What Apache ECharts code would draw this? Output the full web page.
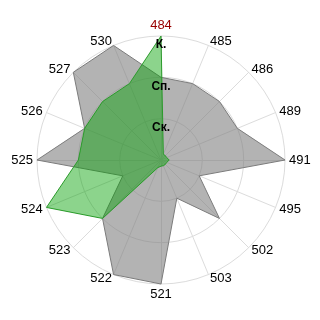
<!DOCTYPE html>
<html><head><meta charset="utf-8">
<script src="https://cdn.jsdelivr.net/npm/echarts@6/dist/echarts.min.js"></script>
<style>html,body{margin:0;padding:0;background:#fff}#c{width:320px;height:320px}</style>
</head><body><div id="c"></div>
<script>
// Categories in clockwise order starting at the top
const categories = ['484','485','486','489','491','495','502','503','521','522','523','524','525','526','527','530'];
const grayValues = [2, 2, 2, 2, 3, 1, 2, 1, 3, 3, 2, 1, 3, 2, 3, 3];
const greenValues = [3, 0.15, 0.15, 0.15, 0.2, 0.15, 0.15, 0.15, 0.15, 0.2, 2, 3, 2, 2, 2, 2];
const tickLabels = ['', 'Ск.', 'Сп.', 'К.'];
const highlighted = '484';
const maxValue = 3;

// ECharts radar runs counter-clockwise; reorder to get a clockwise layout
function clockwise(arr) { return [arr[0]].concat(arr.slice(1).reverse()); }

const baseIndicators = clockwise(categories).map(function (name) {
  const o = { name: name, min: 0, max: maxValue };
  if (name === highlighted) o.color = '#990000';
  return o;
});

// Overlay radar (same geometry) that only carries the value labels on the top axis
const labelIndicators = clockwise(categories).map(function (name) {
  const o = { name: name, min: 0, max: maxValue };
  if (name === highlighted) {
    o.axisLabel = {
      show: true,
      margin: 0,
      align: 'center',
      verticalAlign: 'top',
      padding: [3, 0, 0, 0],
      fontSize: 12,
      fontWeight: 'bold',
      color: '#000',
      fontFamily: 'Liberation Sans, Arial, sans-serif',
      formatter: function (v) { const t = tickLabels[Math.round(v)]; return t == null ? '' : t; }
    };
  }
  return o;
});

const common = {
  center: [161, 160],
  radius: 124,
  startAngle: 90,
  shape: 'circle',
  splitNumber: 3
};

const chart = echarts.init(document.getElementById('c'), null, { renderer: 'canvas' });
chart.setOption({
  animation: false,
  backgroundColor: '#fff',
  radar: [
    Object.assign({}, common, {
      indicator: baseIndicators,
      nameGap: 4,
      axisName: { color: '#000', fontSize: 13, fontFamily: 'Liberation Sans, Arial, sans-serif' },
      axisLine: { lineStyle: { color: '#dcdcdc', width: 1 } },
      splitLine: { lineStyle: { color: '#dcdcdc', width: 1 } },
      splitArea: { show: false },
      axisTick: { show: false },
      axisLabel: { show: false }
    }),
    Object.assign({}, common, {
      z: 10,
      indicator: labelIndicators,
      axisName: { show: false },
      axisLine: { show: false },
      splitLine: { show: false },
      splitArea: { show: false },
      axisTick: { show: false },
      axisLabel: { show: false }
    })
  ],
  series: [{
    type: 'radar',
    radarIndex: 0,
    symbol: 'none',
    silent: true,
    data: [
      {
        value: clockwise(grayValues),
        lineStyle: { color: '#7a7a7a', width: 1 },
        areaStyle: { color: 'rgba(128,128,128,0.6)', opacity: 1 }
      },
      {
        value: clockwise(greenValues),
        lineStyle: { color: '#3a9a3a', width: 1 },
        areaStyle: { color: 'rgba(0,160,0,0.45)', opacity: 1 }
      }
    ]
  }]
});
</script>
</body></html>
